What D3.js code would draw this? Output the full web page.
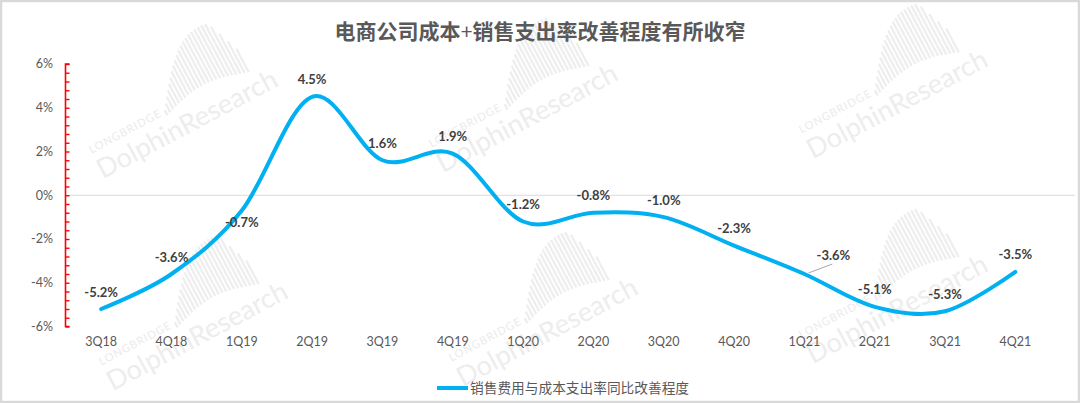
<!DOCTYPE html>
<html><head><meta charset="utf-8">
<script src="https://cdn.jsdelivr.net/npm/d3@7/dist/d3.min.js"></script>
<style>
html,body{margin:0;padding:0;background:#fff;}
svg{display:block;}
</style></head>
<body><svg id="c" width="1080" height="403"></svg>
<script>
const categories = ["3Q18","4Q18","1Q19","2Q19","3Q19","4Q19","1Q20","2Q20","3Q20","4Q20","1Q21","2Q21","3Q21","4Q21"];
const values = [-5.2,-3.6,-0.7,4.5,1.6,1.9,-1.2,-0.8,-1.0,-2.3,-3.6,-5.1,-5.3,-3.5];
const yTickValues = [-6,-4,-2,0,2,4,6];
const seriesName = "销售费用与成本支出率同比改善程度";
const titleParts = ["电商公司成本", "+", "销售支出率改善程度有所收窄"];

const svg = d3.select("#c");
const W = 1080, H = 403;
const latin = "Lato, 'Noto Sans CJK SC', sans-serif";
const cjk = "'Noto Sans CJK SC', 'Noto Sans', sans-serif";

// frame
svg.append("rect").attr("x",1).attr("y",1).attr("width",W-2).attr("height",H-2)
  .attr("fill","#fff").attr("stroke","#d9d9d9").attr("stroke-width",2.5);

// watermarks
const wm = svg.append("g").attr("pointer-events","none");
function watermark(tx, ty){
  const g = wm.append("g").attr("transform",`translate(${tx},${ty}) rotate(-28)`);
  for(let i=0;i<24;i++){
    const t = i/23;
    const h = 6 + 52*Math.sin(Math.PI*Math.min(1,t*1.15)*0.5) * (t>0.85 ? (1-t)/0.15*0.6+0.4 : 1);
    const base = -20 - 10*Math.sin(Math.PI*t);
    g.append("rect").attr("x",86+i*4).attr("y",base-h).attr("width",2.3).attr("height",h)
      .attr("fill","#eeeeee");
  }
  g.append("text").attr("x",2).attr("y",-22).attr("font-family",latin).attr("font-size",11)
    .attr("letter-spacing",1).attr("fill","#ebebeb").text("LONGBRIDGE");
  g.append("text").attr("x",0).attr("y",6).attr("font-family",latin).attr("font-size",27)
    .attr("fill","#ededed").text("DolphinResearch");
}
[[100,174],[440,168],[810,154],[110,386],[460,382],[810,359]].forEach(p=>watermark(p[0],p[1]));

// scales
const x = d3.scaleBand().domain(categories).range([66,1050.5]);
const y = d3.scaleLinear().domain([-6,6]).range([326.5,64]);
const cx = d => x(d)+x.bandwidth()/2;

// zero gridline
svg.append("line").attr("x1",66).attr("x2",1075).attr("y1",y(0)).attr("y2",y(0))
  .attr("stroke","#d9d9d9").attr("stroke-width",1.2);

// y axis (red) with minor ticks
const yAxis = d3.axisRight(y).tickValues(d3.range(-6,6.0001,0.4)).tickSize(4).tickFormat("");
const ya = svg.append("g").attr("transform","translate(65.5,0)").call(yAxis);
ya.select(".domain").attr("stroke","#ff0000").attr("stroke-width",1.6).attr("d",`M4,${y(6)}H0V${y(-6)}H4`);
ya.selectAll(".tick line").attr("stroke","#ff0000").attr("stroke-width",1.4);

// y labels
svg.append("g").selectAll("text").data(yTickValues).join("text")
  .attr("x",53).attr("y",d=>y(d)).attr("dy","0.35em").attr("text-anchor","end")
  .attr("font-family",latin).attr("font-size",12.5).attr("fill","#595959")
  .text(d=>d+"%");

// x labels
svg.append("g").selectAll("text").data(categories).join("text")
  .attr("x",d=>cx(d)).attr("y",342).attr("dy","0.35em").attr("text-anchor","middle")
  .attr("font-family",latin).attr("font-size",12.5).attr("fill","#595959")
  .text(d=>d);

// line
const pts = categories.map((c,i)=>[cx(c), y(values[i])]);
const line = d3.line().curve(d3.curveCardinal.tension(0));
svg.append("path").attr("d",line(pts)).attr("fill","none")
  .attr("stroke","#00b0f0").attr("stroke-width",4).attr("stroke-linecap","round");

// data labels
const offs = values.map(()=>[0,-17]);
offs[2] = [0,12];
offs[10] = [29,-19];
svg.append("line").attr("x1",pts[10][0]+4).attr("y1",pts[10][1]-1)
  .attr("x2",pts[10][0]+28).attr("y2",pts[10][1]-10).attr("stroke","#a6a6a6").attr("stroke-width",1);
svg.append("g").selectAll("text").data(values).join("text")
  .attr("x",(d,i)=>pts[i][0]+offs[i][0]).attr("y",(d,i)=>pts[i][1]+offs[i][1]).attr("dy","0.35em")
  .attr("text-anchor","middle").attr("font-family",latin).attr("font-weight","bold")
  .attr("font-size",13).attr("fill","#404040")
  .text(d=>d.toFixed(1)+"%");

// title
const tt = svg.append("text").attr("x",540).attr("y",32).attr("dy","0.35em").attr("text-anchor","middle")
  .attr("font-family",cjk).attr("font-weight","bold").attr("font-size",21).attr("fill","#595959");
tt.append("tspan").text(titleParts[0]);
tt.append("tspan").attr("font-weight","normal").attr("font-family",latin).text(titleParts[1]);
tt.append("tspan").text(titleParts[2]);

// legend
svg.append("line").attr("x1",437).attr("x2",468).attr("y1",388).attr("y2",388)
  .attr("stroke","#00b0f0").attr("stroke-width",4);
svg.append("text").attr("x",470).attr("y",388).attr("dy","0.35em")
  .attr("font-family",cjk).attr("font-size",13.7).attr("fill","#595959").text(seriesName);
</script></body></html>
